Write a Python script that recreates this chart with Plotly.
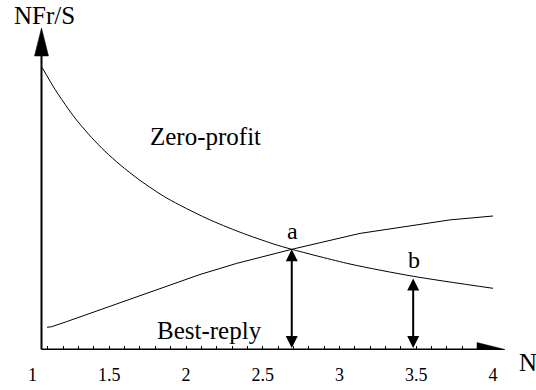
import plotly.graph_objects as go

# ---- data ----
zero_profit_n = [1.064, 1.147, 1.233, 1.298, 1.386, 1.472, 1.570, 1.700, 1.874,
                 2.135, 2.352, 2.569, 2.689, 3.068, 3.481, 4.0]
zero_profit_v = [9.39, 8.67, 8.02, 7.58, 7.06, 6.61, 6.16, 5.64, 5.05,
                 4.37, 3.91, 3.52, 3.34, 2.85, 2.44, 2.04]

best_reply_n = [1.095, 1.125, 1.223, 1.396, 1.570, 1.744, 1.917, 2.091,
                2.330, 2.601, 2.689, 3.134, 3.720, 4.0]
best_reply_v = [0.74, 0.76, 0.93, 1.24, 1.56, 1.89, 2.20, 2.50,
                2.87, 3.22, 3.34, 3.87, 4.32, 4.45]

point_labels = ["a", "b"]
point_n = [2.689, 3.48]
point_v = [3.34, 2.37]

tick_vals = [1, 1.5, 2, 2.5, 3, 3.5, 4]
tick_text = ["1", "1.5", "2", "2.5", "3", "3.5", "4"]
minor_vals = [round(1 + 0.1 * i, 1) for i in range(1, 30)]

# ---- geometry ----
X_RANGE = [0.7883, 4.2801]       # 153.5 px per unit over 536 px
Y_RANGE = [-0.0167, 11.65]       # 30 px per unit over 350 px
PX_X = 536 / (X_RANGE[1] - X_RANGE[0])
PX_Y = 350 / (Y_RANGE[1] - Y_RANGE[0])
AX_N = 1.0586                    # position of the vertical axis
X_TIP = 4.078                    # tip of the horizontal axis arrow
Y_TIP = 10.717                   # tip of the vertical axis arrow
HEAD_LEN, HEAD_HALF = 28, 7      # axis arrowhead size, px

FONT = "Times New Roman, Liberation Serif, DejaVu Serif, serif"

fig = go.Figure()

fig.add_trace(go.Scatter(x=zero_profit_n, y=zero_profit_v, mode="lines",
                         line=dict(color="black", width=1, shape="spline", smoothing=0.8),
                         hoverinfo="skip", showlegend=False))
fig.add_trace(go.Scatter(x=best_reply_n, y=best_reply_v, mode="lines",
                         line=dict(color="black", width=1),
                         hoverinfo="skip", showlegend=False))

# axis arrowheads (filled triangles)
hx = HEAD_LEN / PX_X
hy = HEAD_HALF / PX_Y
fig.add_trace(go.Scatter(x=[X_TIP, X_TIP - hx, X_TIP - hx, X_TIP], y=[0, hy, -hy, 0],
                         mode="lines", fill="toself", fillcolor="black",
                         line=dict(color="black", width=0.5),
                         hoverinfo="skip", showlegend=False))
vx = HEAD_HALF / PX_X
vy = HEAD_LEN / PX_Y
fig.add_trace(go.Scatter(x=[AX_N, AX_N - vx, AX_N + vx, AX_N], y=[Y_TIP, Y_TIP - vy, Y_TIP - vy, Y_TIP],
                         mode="lines", fill="toself", fillcolor="black",
                         line=dict(color="black", width=0.5),
                         hoverinfo="skip", showlegend=False))

# axis lines
fig.add_shape(type="line", x0=AX_N, y0=0, x1=X_TIP - hx, y1=0,
              line=dict(color="black", width=2))
fig.add_shape(type="line", x0=AX_N, y0=0, x1=AX_N, y1=Y_TIP - vy,
              line=dict(color="black", width=2))

# double-headed vertical arrows and point labels
for lab, n, v in zip(point_labels, point_n, point_v):
    fig.add_annotation(x=n, y=v, ax=n, ay=0, xref="x", yref="y", axref="x", ayref="y",
                       text="", showarrow=True, arrowhead=2, startarrowhead=2,
                       arrowside="end+start", arrowwidth=2, arrowsize=1.2,
                       startarrowsize=1.2, arrowcolor="black")
    fig.add_annotation(x=n, y=v, xref="x", yref="y", text=lab, showarrow=False,
                       yshift=18, xshift=1, font=dict(family=FONT, size=24, color="black"))

# curve labels and axis titles
fig.add_annotation(x=2.129, y=7.09, text="Zero-profit", showarrow=False,
                   font=dict(family=FONT, size=25, color="black"))
fig.add_annotation(x=2.156, y=0.62, text="Best-reply", showarrow=False,
                   font=dict(family=FONT, size=25, color="black"))
fig.add_annotation(x=1.077, y=11.15, text="NFr/S", showarrow=False,
                   font=dict(family=FONT, size=25, color="black"))
fig.add_annotation(x=4.228, y=0, yshift=-13, text="N", showarrow=False,
                   font=dict(family=FONT, size=25, color="black"))

fig.update_layout(
    width=536, height=390,
    margin=dict(l=0, r=0, t=0, b=40),
    paper_bgcolor="white", plot_bgcolor="white",
    hovermode=False,
    font=dict(family=FONT, color="black"),
    xaxis=dict(range=X_RANGE, showgrid=False, zeroline=False, showline=False,
               tickmode="array", tickvals=tick_vals, ticktext=tick_text,
               ticks="outside", ticklen=0, ticklabelstandoff=8,
               tickfont=dict(family=FONT, size=18, color="black"),
               minor=dict(tickmode="array", tickvals=minor_vals, ticks="inside",
                          ticklen=4, tickwidth=1, tickcolor="black", showgrid=False)),
    yaxis=dict(range=Y_RANGE, visible=False, showgrid=False, zeroline=False),
)

fig.write_html("out.html", config={"displayModeBar": False},
               post_script="document.body.style.margin='0px';document.body.style.padding='0px';")
